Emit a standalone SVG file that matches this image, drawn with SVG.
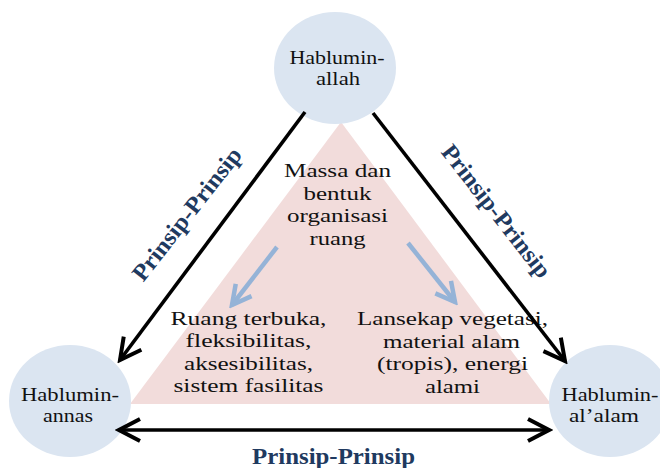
<svg xmlns="http://www.w3.org/2000/svg" width="660" height="468" viewBox="0 0 660 468">
  <style>
    .node { fill: #dbe5f1; }
    .tri { fill: #f2dcdb; }
    .t { font-family: "Liberation Serif", "Times New Roman", serif; font-size: 19.5px; fill: #111; text-anchor: middle; }
    .tc { font-family: "Liberation Serif", "Times New Roman", serif; font-size: 18.5px; fill: #111; text-anchor: middle; }
    .lbl { font-family: "Liberation Serif", "Times New Roman", serif; font-size: 24px; font-weight: bold; fill: #1f3a60; text-anchor: middle; }
    .blk { stroke: #000; stroke-width: 3.6; fill: none; }
    .blu { stroke: #95b3d7; stroke-width: 4.5; fill: none; }
  </style>
  <defs>
    <marker id="ahBlack" markerUnits="userSpaceOnUse" viewBox="-26 -14 30 28" markerWidth="30" markerHeight="28" refX="0" refY="0" orient="auto-start-reverse">
      <path d="M-21,-11 L0,0 L-21,11" fill="none" stroke="#000" stroke-width="4"/>
    </marker>
    <marker id="ahBlue" markerUnits="userSpaceOnUse" viewBox="-24 -13 28 26" markerWidth="28" markerHeight="26" refX="0" refY="0" orient="auto">
      <path d="M-19,-10 L0,0 L-19,10" fill="none" stroke="#95b3d7" stroke-width="4.5"/>
    </marker>
  </defs>

  <rect width="660" height="468" fill="#fff"/>

  <g id="triangle">
    <polygon class="tri" points="341,122 130,404 551,404"/>
  </g>

  <g id="node-hablumin-allah">
    <ellipse class="node" cx="335" cy="68" rx="61" ry="56"/>
    <text class="tc" x="337" y="64" textLength="95" lengthAdjust="spacingAndGlyphs">Hablumin-</text>
    <text class="tc" x="338" y="85" textLength="44" lengthAdjust="spacingAndGlyphs">allah</text>
  </g>

  <g id="node-hablumin-annas">
    <ellipse class="node" cx="70" cy="401" rx="61" ry="56"/>
    <text class="tc" x="70" y="401" textLength="98" lengthAdjust="spacingAndGlyphs">Hablumin-</text>
    <text class="tc" x="68" y="422" textLength="50" lengthAdjust="spacingAndGlyphs">annas</text>
  </g>

  <g id="node-hablumin-alalam">
    <ellipse class="node" cx="610" cy="401" rx="61" ry="56"/>
    <text class="tc" x="610" y="401" textLength="97" lengthAdjust="spacingAndGlyphs">Hablumin-</text>
    <text class="tc" x="604" y="422" textLength="70" lengthAdjust="spacingAndGlyphs">al’alam</text>
  </g>

  <g id="node-massa">
    <text class="t" x="337.5" y="177" textLength="107" lengthAdjust="spacingAndGlyphs">Massa dan</text>
    <text class="t" x="337.5" y="199.5" textLength="68" lengthAdjust="spacingAndGlyphs">bentuk</text>
    <text class="t" x="337.5" y="222" textLength="101" lengthAdjust="spacingAndGlyphs">organisasi</text>
    <text class="t" x="337.5" y="244.5" textLength="56" lengthAdjust="spacingAndGlyphs">ruang</text>
  </g>

  <g id="node-ruang-terbuka">
    <text class="t" x="248.5" y="324.5" textLength="156" lengthAdjust="spacingAndGlyphs">Ruang terbuka,</text>
    <text class="t" x="248.5" y="347" textLength="126" lengthAdjust="spacingAndGlyphs">fleksibilitas,</text>
    <text class="t" x="248.5" y="369.5" textLength="129" lengthAdjust="spacingAndGlyphs">aksesibilitas,</text>
    <text class="t" x="248.5" y="392" textLength="150" lengthAdjust="spacingAndGlyphs">sistem fasilitas</text>
  </g>

  <g id="node-lansekap">
    <text class="t" x="452.5" y="325" textLength="191" lengthAdjust="spacingAndGlyphs">Lansekap vegetasi,</text>
    <text class="t" x="451.5" y="347.5" textLength="137" lengthAdjust="spacingAndGlyphs">material alam</text>
    <text class="t" x="452.5" y="370" textLength="151" lengthAdjust="spacingAndGlyphs">(tropis), energi</text>
    <text class="t" x="452.5" y="392.5" textLength="55" lengthAdjust="spacingAndGlyphs">alami</text>
  </g>

  <g id="connectors">
    <line class="blk" x1="305" y1="112" x2="120" y2="360" marker-end="url(#ahBlack)"/>
    <line class="blk" x1="373" y1="113" x2="565" y2="361" marker-end="url(#ahBlack)"/>
    <line class="blk" x1="119" y1="430" x2="549" y2="430" marker-start="url(#ahBlack)" marker-end="url(#ahBlack)"/>
    <line class="blu" x1="277" y1="247" x2="232" y2="305" marker-end="url(#ahBlue)"/>
    <line class="blu" x1="408" y1="243" x2="455" y2="302" marker-end="url(#ahBlue)"/>
    <text class="lbl" transform="translate(193,219) rotate(-52)" textLength="162" lengthAdjust="spacingAndGlyphs">Prinsip-Prinsip</text>
    <text class="lbl" transform="translate(490,216) rotate(52)" textLength="162" lengthAdjust="spacingAndGlyphs">Prinsip-Prinsip</text>
    <text class="lbl" x="333.5" y="464" textLength="163" lengthAdjust="spacingAndGlyphs">Prinsip-Prinsip</text>
  </g>
</svg>
